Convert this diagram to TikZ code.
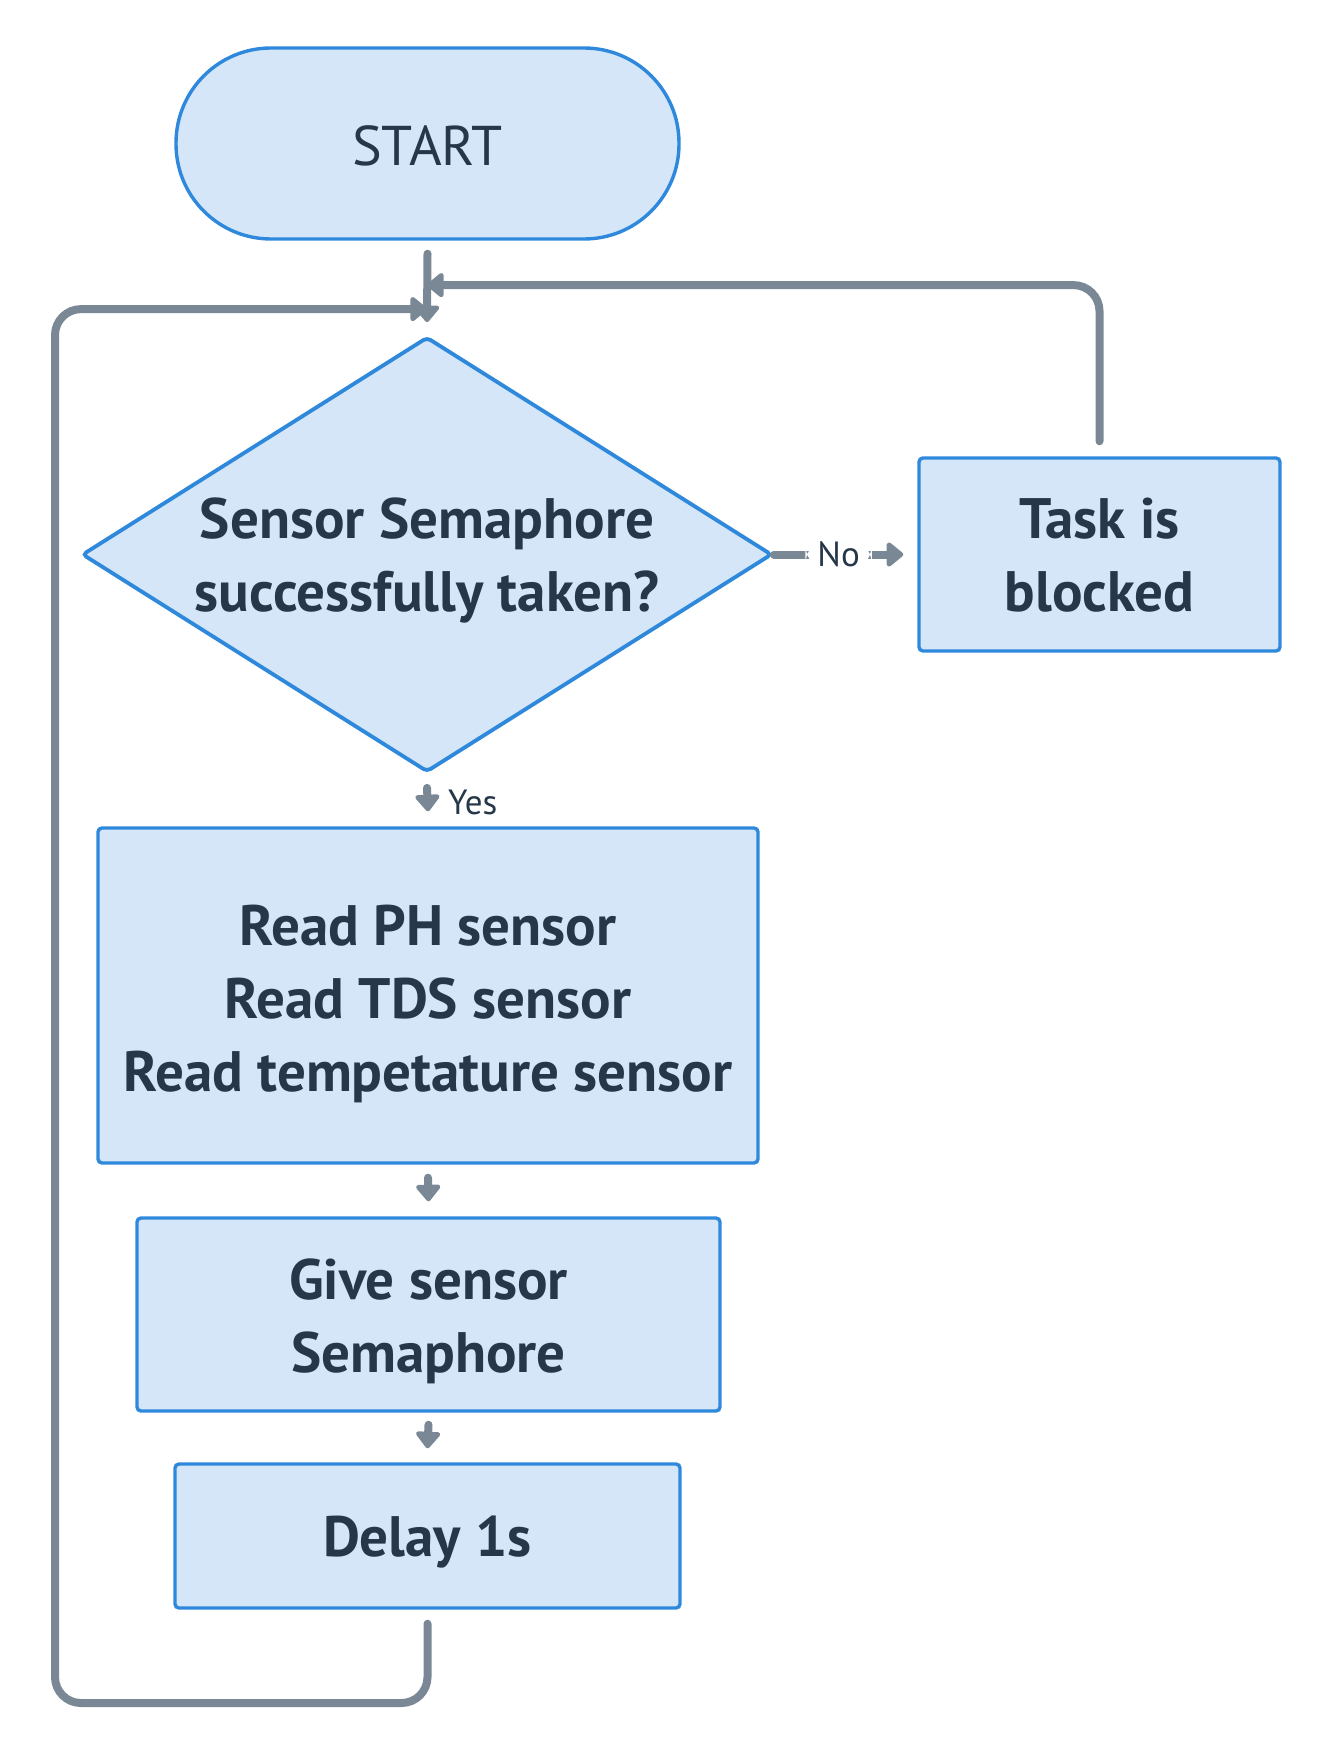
\documentclass[tikz,border=0pt]{standalone}
\usepackage{fontspec}
\setmainfont{PT Sans}
\usetikzlibrary{arrows.meta,shapes.geometric}
\definecolor{fillb}{HTML}{D4E6F7}
\definecolor{lineb}{HTML}{2E88DC}
\definecolor{conncol}{HTML}{7A8896}
\definecolor{txt}{HTML}{26374A}
\begin{document}
\begin{tikzpicture}[x=1pt,y=-1pt,
  box/.style={draw=lineb, fill=fillb, line width=3.4pt, rounded corners=4pt, inner sep=0pt},
  boxtext/.style={inner sep=0pt, text=txt, font=\fontsize{57}{73}\selectfont\bfseries, align=center},
  link/.style={draw=conncol, line width=8pt, line cap=round, rounded corners=26pt,
    -{Triangle[width=28pt,length=18pt,round]}},
  lbl/.style={text=txt, font=\fontsize{35}{40}\selectfont, inner sep=0pt}
]
\useasboundingbox (0,0) rectangle (1328,1760);
\node[box, rounded corners=95pt, minimum width=503pt, minimum height=191pt] (start) at (427.5,143.5) {};
\node[boxtext, font=\fontsize{56}{60}\selectfont] (starttext) at ([yshift=-2pt]start.center) {START};
\node[draw=lineb, fill=fillb, line width=3.8pt, diamond, rounded corners=4pt, inner sep=0pt,
  minimum width=690pt, minimum height=435pt, shape aspect=1.586] (dia) at (427,554.5) {};
\node[boxtext] (diatext) at ([yshift=-6pt]dia.center) {Sensor Semaphore\\successfully taken?};
\node[box, minimum width=361pt, minimum height=193pt] (task) at (1099.5,554.5) {};
\node[boxtext] (tasktext) at ([yshift=-1pt]task.center) {Task is\\blocked};
\node[box, minimum width=660pt, minimum height=335pt] (read) at (428,995.5) {};
\node[boxtext] (readtext) at ([yshift=-8pt]read.center)
  {Read PH sensor\\Read TDS sensor\\Read tempetature sensor};
\node[box, minimum width=583pt, minimum height=193pt] (give) at (428.5,1314.5) {};
\node[boxtext] (givetext) at ([yshift=-7pt]give.center) {Give sensor\\Semaphore};
\node[box, minimum width=505pt, minimum height=144pt] (delay) at (427.5,1536) {};
\node[boxtext] (delaytext) at ([yshift=-6pt]delay.center) {Delay 1s};
\coordinate (loopL) at (55,1703);
\coordinate (topA) at ([yshift=26pt]dia.north);
\coordinate (topB) at ([yshift=50pt]dia.north);
% start to decision
\draw[link] ([yshift=-13pt]start.south) -- ([yshift=13pt]dia.north);
% No branch
\draw[link] (dia.east) -- node[lbl, fill=white, inner xsep=12pt, inner ysep=4pt] (no) {No} ([xshift=-14pt]task.west);
% task back
\draw[link] ([yshift=15pt]task.north) |- (topB);
% Yes
\draw[link] ([yshift=-14pt]dia.south) -- ([yshift=15pt]read.north);
\node[lbl, anchor=west] (yes) at ([xshift=21pt,yshift=-29pt]dia.south) {Yes};
% read -> give
\draw[link] ([yshift=-13pt]read.south) -- ([yshift=15pt]give.north);
% give -> delay
\draw[link] ([yshift=-12pt]give.south) -- ([yshift=14pt]delay.north);
% loop
\draw[link] ([yshift=-14pt]delay.south) |- (loopL) |- (topA);
\end{tikzpicture}
\end{document}
